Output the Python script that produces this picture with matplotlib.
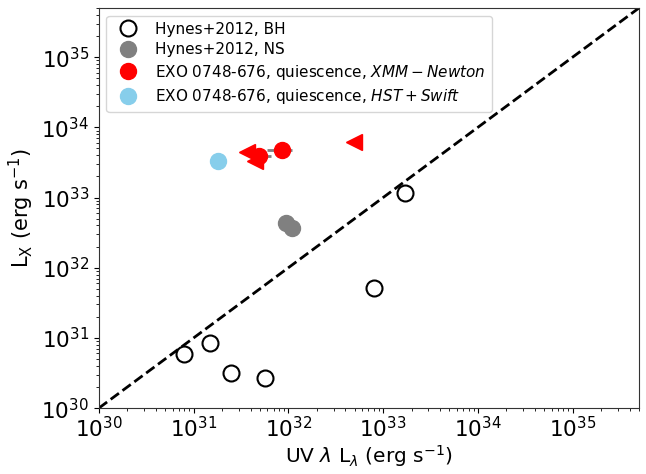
import numpy as np
import matplotlib.pyplot as plt

# Hynes+2012 black holes
bh_uv = [8.0e30, 1.5e31, 2.5e31, 5.6e31, 8.0e32, 1.7e33]
bh_lx = [5.9e30, 8.5e30, 3.2e30, 2.7e30, 5.2e31, 1.15e33]

# Hynes+2012 neutron stars
ns_uv = [9.5e31, 1.1e32]
ns_lx = [4.3e32, 3.7e32]

# EXO 0748-676, XMM-Newton (detections with x error bars)
xmm_uv = [8.5e31, 4.9e31]
xmm_lx = [4.7e33, 3.9e33]
xmm_uv_lo = [5.9e31, 3.9e31]
xmm_uv_hi = [1.1e32, 6.6e31]

# EXO 0748-676, XMM-Newton (upper limits in UV)
lim_uv = [3.7e31, 4.4e31, 4.9e32]
lim_lx = [4.4e33, 3.3e33, 6.2e33]

# EXO 0748-676, HST + Swift
hst_uv = [1.8e31]
hst_lx = [3.3e33]

lims = (1e30, 5e35)

fig = plt.figure(figsize=(6.46, 4.74), dpi=100)
ax = fig.add_subplot(111)
fig.subplots_adjust(left=0.153, right=0.989, top=0.983, bottom=0.139)

ax.plot(lims, lims, 'k--', lw=2, zorder=1)

ax.plot(bh_uv, bh_lx, 'o', mfc='white', mec='black', mew=1.5, ms=11.5,
        ls='none', label='Hynes+2012, BH', zorder=3)
ax.plot(ns_uv, ns_lx, 'o', color='grey', ms=11.5, ls='none',
        label='Hynes+2012, NS', zorder=3)

xerr = [np.array(xmm_uv) - np.array(xmm_uv_lo), np.array(xmm_uv_hi) - np.array(xmm_uv)]
ax.errorbar(xmm_uv, xmm_lx, xerr=xerr, fmt='none', ecolor='grey', elinewidth=2, zorder=2)
ax.plot(xmm_uv, xmm_lx, 'o', color='red', ms=11.5, ls='none',
        label=r'EXO 0748-676, quiescence, $XMM-Newton$', zorder=4)
ax.plot(lim_uv, lim_lx, '<', color='red', ms=12, ls='none', zorder=4)
ax.plot(hst_uv, hst_lx, 'o', color='skyblue', ms=11.5, ls='none',
        label=r'EXO 0748-676, quiescence, $HST+Swift$', zorder=4)

ax.set_xscale('log')
ax.set_yscale('log')
ax.set_xlim(lims)
ax.set_ylim(lims)
ax.set_xticks([1e30, 1e31, 1e32, 1e33, 1e34, 1e35])
ax.set_yticks([1e30, 1e31, 1e32, 1e33, 1e34, 1e35])
ax.tick_params(labelsize=15.5)
ax.tick_params(axis='x', pad=2.5)
for s in ax.spines.values():
    s.set_color('#333333')

ax.set_xlabel(r'UV $\lambda$ L$_\lambda$ (erg s$^{-1}$)', fontsize=14.5, labelpad=1)
ax.set_ylabel(r'L$_{\rm X}$ (erg s$^{-1}$)', fontsize=15)
ax.legend(loc='upper left', fontsize=11, handletextpad=0.8, labelspacing=0.35)

fig.savefig('out.png', dpi=100)
